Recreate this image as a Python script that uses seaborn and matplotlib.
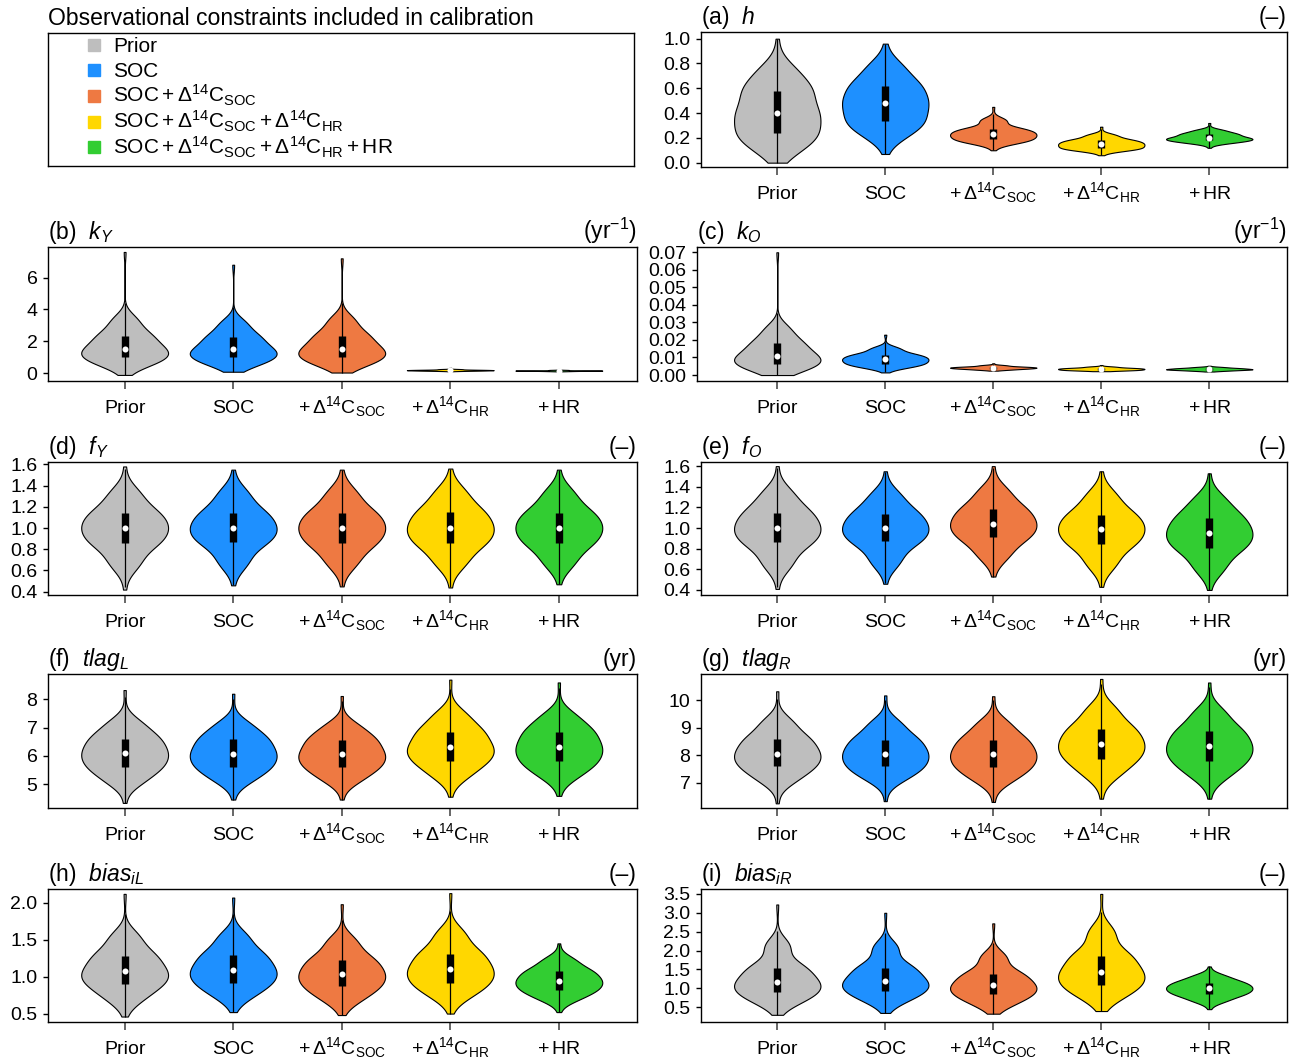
import numpy as np
import pandas as pd
import matplotlib.pyplot as plt
import seaborn as sns

# =========================
# 1. DATA
# =========================

groups = ["Prior", "SOC", "SOC+D14C_SOC", "SOC+D14C_SOC+D14C_HR", "SOC+D14C_SOC+D14C_HR+HR"]
tick_labels = ["Prior", "SOC",
               r"$+\,\Delta^{14}\mathrm{C}_{\mathrm{SOC}}$",
               r"$+\,\Delta^{14}\mathrm{C}_{\mathrm{HR}}$",
               r"$+\,\mathrm{HR}$"]
legend_labels = ["Prior", "SOC",
                 r"$\mathrm{SOC}+\Delta^{14}\mathrm{C}_{\mathrm{SOC}}$",
                 r"$\mathrm{SOC}+\Delta^{14}\mathrm{C}_{\mathrm{SOC}}+\Delta^{14}\mathrm{C}_{\mathrm{HR}}$",
                 r"$\mathrm{SOC}+\Delta^{14}\mathrm{C}_{\mathrm{SOC}}+\Delta^{14}\mathrm{C}_{\mathrm{HR}}+\mathrm{HR}$"]
colors = ["#BEBEBE", "#1E90FF", "#EE7942", "#FFD700", "#32CD32"]

# every violin: min, 5%, 25%, median, 75%, 95%, max
# each value stands for this many draws of the posterior sample
quantile_mass = [1, 12, 22, 25, 22, 12, 1]

h_q = [[0.00, 0.12, 0.24, 0.40, 0.58, 0.74, 1.00],
       [0.07, 0.23, 0.34, 0.48, 0.62, 0.77, 0.96],
       [0.10, 0.16, 0.19, 0.23, 0.27, 0.34, 0.45],
       [0.06, 0.10, 0.12, 0.15, 0.18, 0.22, 0.29],
       [0.12, 0.16, 0.18, 0.20, 0.23, 0.26, 0.32]]

kY_q = [[-0.10, 0.60, 1.00, 1.55, 2.35, 3.30, 7.60],
        [0.10, 0.60, 1.00, 1.50, 2.25, 3.10, 6.80],
        [0.05, 0.60, 1.00, 1.55, 2.35, 3.30, 7.20],
        [0.13, 0.16, 0.18, 0.20, 0.22, 0.26, 0.35],
        [0.12, 0.14, 0.16, 0.17, 0.18, 0.21, 0.27]]

kO_q = [[0.0000, 0.0035, 0.0065, 0.0110, 0.0180, 0.0260, 0.0700],
        [0.0015, 0.0045, 0.0065, 0.0090, 0.0115, 0.0150, 0.0230],
        [0.0025, 0.0031, 0.0037, 0.0042, 0.0047, 0.0055, 0.0067],
        [0.0022, 0.0026, 0.0030, 0.0035, 0.0040, 0.0047, 0.0057],
        [0.0020, 0.0025, 0.0030, 0.0034, 0.0039, 0.0045, 0.0053]]

fY_q = [[0.42, 0.67, 0.86, 1.00, 1.14, 1.32, 1.58],
        [0.46, 0.68, 0.87, 1.00, 1.14, 1.32, 1.55],
        [0.45, 0.68, 0.86, 1.00, 1.14, 1.32, 1.55],
        [0.44, 0.68, 0.86, 1.00, 1.15, 1.33, 1.56],
        [0.47, 0.68, 0.86, 1.00, 1.14, 1.32, 1.55]]

fO_q = [[0.41, 0.66, 0.86, 1.00, 1.15, 1.33, 1.60],
        [0.46, 0.68, 0.87, 1.00, 1.14, 1.31, 1.55],
        [0.53, 0.74, 0.91, 1.04, 1.18, 1.35, 1.60],
        [0.43, 0.66, 0.85, 0.99, 1.13, 1.31, 1.55],
        [0.40, 0.62, 0.81, 0.95, 1.10, 1.27, 1.53]]

tlagL_q = [[4.33, 5.12, 5.61, 6.09, 6.60, 7.13, 8.33],
           [4.45, 5.17, 5.62, 6.08, 6.58, 7.08, 8.20],
           [4.45, 5.17, 5.62, 6.06, 6.55, 7.03, 8.12],
           [4.55, 5.32, 5.83, 6.30, 6.85, 7.43, 8.70],
           [4.58, 5.32, 5.80, 6.30, 6.84, 7.38, 8.60]]

tlagR_q = [[6.25, 7.12, 7.60, 8.06, 8.58, 9.18, 10.33],
           [6.33, 7.17, 7.60, 8.06, 8.56, 9.13, 10.18],
           [6.30, 7.12, 7.58, 8.05, 8.56, 9.13, 10.15],
           [6.42, 7.32, 7.88, 8.40, 8.96, 9.63, 10.78],
           [6.42, 7.27, 7.80, 8.32, 8.88, 9.53, 10.65]]

biasL_q = [[0.46, 0.71, 0.90, 1.07, 1.28, 1.53, 2.12],
           [0.52, 0.75, 0.92, 1.09, 1.29, 1.53, 2.07],
           [0.48, 0.70, 0.87, 1.04, 1.23, 1.47, 1.98],
           [0.50, 0.75, 0.92, 1.10, 1.31, 1.57, 2.13],
           [0.52, 0.70, 0.82, 0.94, 1.07, 1.22, 1.45]]

biasR_q = [[0.30, 0.65, 0.90, 1.18, 1.55, 2.12, 3.22],
           [0.35, 0.70, 0.94, 1.20, 1.55, 2.07, 3.00],
           [0.33, 0.60, 0.84, 1.08, 1.38, 1.82, 2.72],
           [0.40, 0.80, 1.10, 1.44, 1.87, 2.47, 3.50],
           [0.45, 0.68, 0.85, 1.00, 1.15, 1.32, 1.58]]

# =========================
# 2. PANEL SETTINGS
# =========================

panels = [
    dict(tag="(a)", var=r"$h$", unit="(–)", q=h_q, ylim=(-0.035, 1.054),
         yticks=[0.0, 0.2, 0.4, 0.6, 0.8, 1.0], fmt="{:.1f}", box=(701, 32, 1287, 167)),
    dict(tag="(b)", var=r"$k_Y$", unit=r"(yr$^{-1}$)", q=kY_q, ylim=(-0.48, 7.91),
         yticks=[0, 2, 4, 6], fmt="{:.0f}", box=(48, 247, 637, 381)),
    dict(tag="(c)", var=r"$k_O$", unit=r"(yr$^{-1}$)", q=kO_q, ylim=(-0.0034, 0.073),
         yticks=[0.0, 0.01, 0.02, 0.03, 0.04, 0.05, 0.06, 0.07], fmt="{:.2f}",
         box=(697, 247, 1287, 381)),
    dict(tag="(d)", var=r"$f_Y$", unit="(–)", q=fY_q, ylim=(0.369, 1.622),
         yticks=[0.4, 0.6, 0.8, 1.0, 1.2, 1.4, 1.6], fmt="{:.1f}", box=(48, 462, 637, 595)),
    dict(tag="(e)", var=r"$f_O$", unit="(–)", q=fO_q, ylim=(0.351, 1.64),
         yticks=[0.4, 0.6, 0.8, 1.0, 1.2, 1.4, 1.6], fmt="{:.1f}", box=(701, 462, 1287, 595)),
    dict(tag="(f)", var=r"$tlag_L$", unit="(yr)", q=tlagL_q, ylim=(4.15, 8.9),
         yticks=[5, 6, 7, 8], fmt="{:.0f}", box=(48, 674, 637, 808)),
    dict(tag="(g)", var=r"$tlag_R$", unit="(yr)", q=tlagR_q, ylim=(6.08, 10.96),
         yticks=[7, 8, 9, 10], fmt="{:.0f}", box=(701, 674, 1287, 808)),
    dict(tag="(h)", var=r"$bias_{iL}$", unit="(–)", q=biasL_q, ylim=(0.386, 2.186),
         yticks=[0.5, 1.0, 1.5, 2.0], fmt="{:.1f}", box=(48, 889, 637, 1022)),
    dict(tag="(i)", var=r"$bias_{iR}$", unit="(–)", q=biasR_q, ylim=(0.11, 3.63),
         yticks=[0.5, 1.0, 1.5, 2.0, 2.5, 3.0, 3.5], fmt="{:.1f}", box=(701, 889, 1287, 1022)),
]

W, H = 1298, 1060

# =========================
# 3. STYLE
# =========================

sns.set_theme(style="ticks")
plt.rcParams["font.family"] = ["Liberation Sans", "DejaVu Sans"]
plt.rcParams["mathtext.fontset"] = "custom"
plt.rcParams["mathtext.rm"] = "Liberation Sans"
plt.rcParams["mathtext.it"] = "Liberation Sans:italic"
plt.rcParams["mathtext.bf"] = "Liberation Sans:bold"
plt.rcParams["text.color"] = "black"
plt.rcParams["axes.labelcolor"] = "black"
plt.rcParams["xtick.labelcolor"] = "black"
plt.rcParams["ytick.labelcolor"] = "black"
plt.rcParams["axes.linewidth"] = 1.0
plt.rcParams["axes.edgecolor"] = "black"


def px_axes(fig, box):
    x0, y0, x1, y1 = box
    return fig.add_axes([x0 / W, 1 - y1 / H, (x1 - x0) / W, (y1 - y0) / H])


fig = plt.figure(figsize=(W / 100, H / 100), dpi=100)

# =========================
# 4. VIOLIN PANELS
# =========================

for p in panels:
    ax = px_axes(fig, p["box"])
    q = p["q"]
    df = pd.DataFrame({
        "group": np.repeat(groups, sum(quantile_mass)),
        "value": np.concatenate([np.repeat(v, quantile_mass) for v in q]),
    })
    sns.violinplot(data=df, x="group", y="value", hue="group", order=groups,
                   hue_order=groups, palette=colors, saturation=1,
                   density_norm="width", width=0.8, cut=0, inner=None,
                   linewidth=0.8, linecolor="black", bw_adjust=1.2,
                   legend=False, ax=ax)

    # inner box: whiskers (1.5 IQR), quartile bar, median dot
    for i, (lo, p5, q1, med, q3, p95, hi) in enumerate(q):
        iqr = q3 - q1
        wlo = max(lo, q1 - 1.5 * iqr)
        whi = min(hi, q3 + 1.5 * iqr)
        ax.vlines(i, wlo, whi, color="black", lw=0.9, zorder=3)
        ax.vlines(i, q1, q3, color="black", lw=5.3, zorder=4, capstyle="butt")
        ax.scatter([i], [med], s=19, color="white", zorder=5, linewidths=0)

    # violins sit 108 px apart; wider tick labels push the left frame out
    x0 = p["box"][0]
    left_pad = 0.706 + (701 - x0) / 108 if 650 < x0 < 701 else 0.706
    ax.set_xlim(-left_pad, 4.72)
    ax.set_ylim(*p["ylim"])
    ax.set_xlabel("")
    ax.set_ylabel("")
    ax.set_yticks(p["yticks"], labels=[p["fmt"].format(t) for t in p["yticks"]])
    ax.set_xticks(range(len(groups)), labels=tick_labels)
    ax.tick_params(axis="y", length=3.6, width=1, pad=4, labelsize=14, color="black")
    ax.tick_params(axis="x", length=5.8, width=1.2, pad=17.5, labelsize=14, color="0.3")
    for lab in ax.get_xticklabels():
        lab.set_verticalalignment("baseline")
    for s in ax.spines.values():
        s.set_visible(True)
        s.set_color("black")
        s.set_linewidth(1.0)

    ax.set_title(p["tag"] + "  " + p["var"], loc="left", pad=6, fontsize=16.5)
    ax.set_title(p["unit"], loc="right", pad=6, fontsize=16.5)

# =========================
# 5. LEGEND BOX
# =========================

lax = px_axes(fig, (48, 33, 634, 166))
lax.set_xlim(0, 586)
lax.set_ylim(133, 0)
lax.set_xticks([])
lax.set_yticks([])
for s in lax.spines.values():
    s.set_visible(True)
    s.set_color("black")
    s.set_linewidth(1.0)
lax.set_title("Observational constraints included in calibration", loc="left",
              pad=6, fontsize=16.6)

row_y = [12, 37, 63, 89, 114]
for lab, col, y in zip(legend_labels, colors, row_y):
    lax.plot([46], [y], marker="s", ms=8, color=col, ls="none")
    lax.text(65, y + 7, lab, fontsize=15, va="baseline", ha="left")

fig.savefig("out.png", dpi=100)
